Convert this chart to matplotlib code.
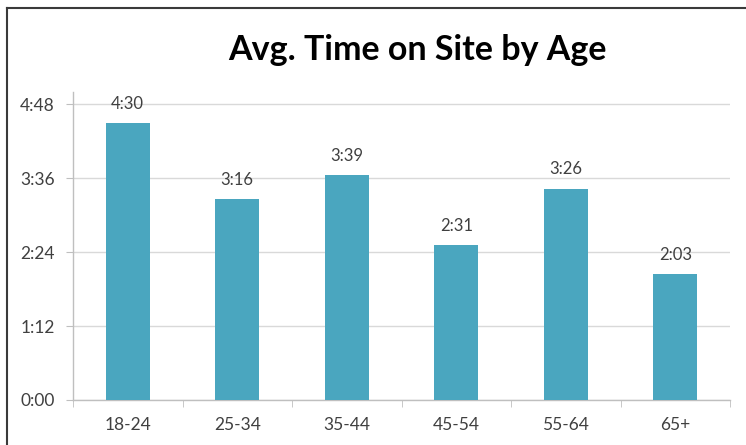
import matplotlib
matplotlib.use("Agg")
import matplotlib.pyplot as plt
from matplotlib.ticker import FuncFormatter, FixedLocator

age_groups = ["18-24", "25-34", "35-44", "45-54", "55-64", "65+"]
# average time on site, in seconds
avg_seconds = [270, 196, 219, 151, 206, 123]
y_ticks = [0, 72, 144, 216, 288]

BAR_COLOR = "#4aa6bf"
GRID_COLOR = "#d9d9d9"
AXIS_COLOR = "#bfbfbf"
TEXT_COLOR = "#404040"


def fmt_time(sec, pos=None):
    sec = int(round(sec))
    return f"{sec // 60}:{sec % 60:02d}"


plt.rcParams["font.family"] = ["Lato", "DejaVu Sans"]

fig = plt.figure(figsize=(7.46, 4.45), dpi=100)
ax = fig.add_axes([73 / 746, 1 - 400 / 445, (730 - 73) / 746, (400 - 92) / 445])

x = list(range(len(age_groups)))
bars = ax.bar(x, avg_seconds, width=0.40, color=BAR_COLOR, zorder=3)

for xi, v in zip(x, avg_seconds):
    ax.annotate(fmt_time(v), (xi, v), xytext=(0, 8), textcoords="offset points",
                ha="center", va="bottom", fontsize=12, color=TEXT_COLOR)

ax.set_xlim(-0.5, len(age_groups) - 0.5)
ax.set_ylim(0, 300)
ax.yaxis.set_major_locator(FixedLocator(y_ticks))
ax.yaxis.set_major_formatter(FuncFormatter(fmt_time))
ax.grid(axis="y", color=GRID_COLOR, linewidth=1, zorder=0)

ax.set_xticks(x)
ax.set_xticklabels(age_groups)
ax.set_xticks([i - 0.5 for i in range(len(age_groups) + 1)], minor=True)
ax.tick_params(axis="x", which="major", length=0, pad=12, labelsize=12.5, colors=TEXT_COLOR)
ax.tick_params(axis="x", which="minor", length=5, color=AXIS_COLOR, direction="out")
ax.tick_params(axis="y", length=5, color=AXIS_COLOR, pad=8, labelsize=12.5, labelcolor=TEXT_COLOR)

for side in ("top", "right"):
    ax.spines[side].set_visible(False)
for side in ("left", "bottom"):
    ax.spines[side].set_color(AXIS_COLOR)
    ax.spines[side].set_linewidth(1)

fig.text(417 / 746, 1 - 50 / 445, "Avg. Time on Site by Age", ha="center", va="center",
         fontsize=24.5, fontweight="bold", color="black")

# frame line along the left and top edges
fig.add_artist(plt.Line2D([7 / 746, 7 / 746], [0, 1 - 8 / 445], transform=fig.transFigure,
                          color="#3a3a3a", linewidth=1.5))
fig.add_artist(plt.Line2D([7 / 746, 1], [1 - 8 / 445, 1 - 8 / 445], transform=fig.transFigure,
                          color="#3a3a3a", linewidth=1.5))

fig.savefig("out.png", dpi=100)
